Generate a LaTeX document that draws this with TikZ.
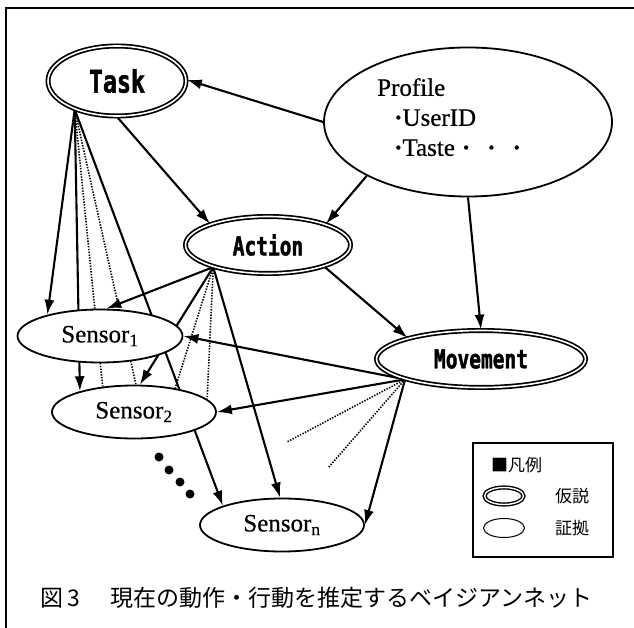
\documentclass[tikz,border=0pt]{standalone}
\usepackage{fontspec}
\setmainfont{Liberation Serif}[FakeBold=0.5]
\newfontfamily\hypfont{DejaVu Sans Mono}[FakeStretch=0.75,FakeBold=1.5]
\newfontfamily\cjk{Noto Sans CJK JP}
\usetikzlibrary{shapes.geometric,arrows.meta}
\pgfdeclarelayer{edges}
\pgfsetlayers{edges,main}
\tikzset{ >={Latex[length=15pt,width=10pt]} }
\tikzset{
    hypo/.style={ellipse, draw, double, line width=1.7pt, double distance=1.6pt,
                 fill=white, inner sep=0pt},
    evid/.style={ellipse, draw, line width=1.8pt, fill=white, inner sep=0pt,
                 font=\fontsize{25}{28}\selectfont},
    link/.style={->, line width=2.1pt},
    dotlink/.style={line width=1.6pt, dash pattern=on 1.4pt off 1.4pt},
    jtext/.style={font=\cjk\fontsize{17}{17}\selectfont, inner sep=0pt, anchor=west}
}
\def\hypsize{\hypfont\bfseries\fontsize{26}{26}\selectfont}

\begin{document}
\begin{tikzpicture}[x=1pt,y=-1pt]
    \useasboundingbox (0,0) rectangle (634,628);
    % Frame (only left and top edges)
    \draw[line width=1.6pt] (6,628) -- (6,8) -- (634,8);
    % Hypothesis nodes
    \node[hypo, minimum width=138pt, minimum height=70pt,
          font=\hypfont\bfseries\fontsize{31}{31}\selectfont] (task) at (117,81) {Task};
    \node[hypo, minimum width=165pt, minimum height=57pt, font=\hypsize] (action) at (268,245) {Action};
    \node[hypo, minimum width=209pt, minimum height=57pt, font=\hypsize] (movement) at (481,359) {Movement};
    % Evidence nodes
    \node[evid, minimum width=288pt, minimum height=149pt] (profile) at (468,122) {};
    \node[align=left, inner sep=0pt, anchor=north west, font=\fontsize{25}{30}\selectfont]
        (profiletext) at (377,78)
        {Profile\\\hspace*{17pt}\textbf{·}UserID\\\hspace*{17pt}\textbf{·}Taste\hspace{7pt}\textbf{·}\hspace{17pt}\textbf{·}\hspace{17pt}\textbf{·}};
    \node[evid, minimum width=165pt, minimum height=53pt] (sensor1) at (100,336) {Sensor\textsubscript{1}};
    \node[evid, minimum width=164pt, minimum height=53pt] (sensor2) at (134,412) {Sensor\textsubscript{2}};
    \node[evid, minimum width=164pt, minimum height=53pt] (sensorn) at (282,525) {Sensor\textsubscript{n}};
    % Free ends of the dotted links from Movement
    \coordinate (movedotA) at (287,442);
    \coordinate (movedotB) at (328,468);
    % Links (kept behind the filled ellipses)
    \begin{pgfonlayer}{edges}
        \draw[link] (profile.180) -- (task.1);
        \draw[link] (profile.208) -- (action.20);
        \draw[link] (profile.south) -- (movement.north);
        \draw[link] (task.south) -- (action.160);
        \draw[link] (action.339) -- (movement.164);
        % from Task
        \draw[link] (task.214) -- (sensor1.158);
        \draw[link] (task.214) -- (sensor2.159);
        \draw[link] (task.214) -- (sensorn.162);
        \draw[dotlink] (task.214) -- (sensor2.141);
        \draw[dotlink] (task.214) -- (sensor2.86);
        % from Action
        \draw[link] (action.202) -- (sensor1.77);
        \draw[link] (action.202) -- (sensor2.78);
        \draw[link] (action.202) -- (sensorn.94);
        \draw[dotlink] (action.202) -- (sensor2.30);
        \draw[dotlink] (action.202) -- (sensor2.10);
        % from Movement
        \draw[link] (movement.195) -- (sensor1.east);
        \draw[link] (movement.195) -- (sensor2.east);
        \draw[link] (movement.195) -- (sensorn.east);
        \draw[dotlink] (movement.195) -- (movedotA);
        \draw[dotlink] (movement.195) -- (movedotB);
    \end{pgfonlayer}
    % Ellipsis between Sensor2 and Sensorn
    \foreach \x/\y in {159/457,169/470,180/482,190/494} { \fill (\x,\y) circle (4.5pt); }
    % Legend
    \node[draw, line width=1.6pt, minimum width=140pt, minimum height=114pt, inner sep=0pt]
        (legend) at (543,500) {};
    \node[jtext] (legendtitle) at (491,465) {■凡例};
    \node[hypo, line width=1.4pt, double distance=1.4pt, minimum width=39pt, minimum height=17pt]
        (keyhypo) at (504,496) {};
    \node[ellipse, draw, line width=1pt, minimum width=41pt, minimum height=19pt, inner sep=0pt]
        (keyevid) at (504,528) {};
    \node[jtext] (keyhypotext) at (555,496) {仮説};
    \node[jtext] (keyevidtext) at (555,528) {証拠};
    % Caption
    \node[font=\cjk\fontsize{23}{23}\selectfont, inner sep=0pt, anchor=west] (caption) at (40,598)
        {図\,3\hspace{31pt}現在の動作・行動を推定するベイジアンネット};
\end{tikzpicture}
\end{document}
